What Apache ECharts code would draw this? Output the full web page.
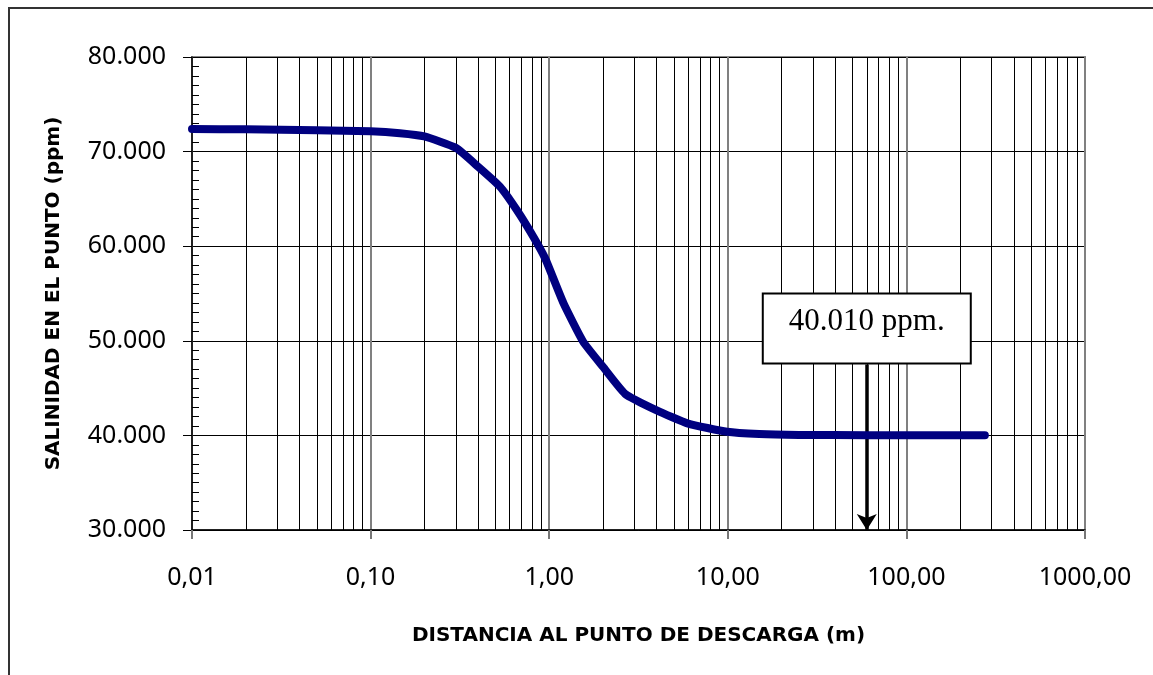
<!DOCTYPE html>
<html>
<head>
<meta charset="utf-8">
<script src="https://cdn.jsdelivr.net/npm/echarts@6/dist/echarts.min.js"></script>
<style>
html,body{margin:0;padding:0;background:#fff;}
#frame{position:absolute;left:8px;top:7px;width:1200px;height:700px;border-left:2px solid #333;border-top:2px solid #333;}
#chart{position:absolute;left:0;top:0;width:1153px;height:675px;}
</style>
</head>
<body>
<div id="frame"></div>
<div id="chart"></div>
<script>
// Distances (m) and salinity (ppm)
const distances = [0.01, 0.02, 0.05, 0.1, 0.146, 0.2, 0.3, 0.4, 0.53, 0.66, 0.815, 0.95, 1.2, 1.55, 2.0, 2.66, 4.0, 6.0, 9.9, 15, 25, 60, 150, 275];
const salinity  = [72400, 72350, 72250, 72150, 71950, 71600, 70400, 68400, 66300, 63800, 61000, 58700, 54000, 49900, 47250, 44400, 42650, 41250, 40380, 40140, 40050, 40020, 40010, 40010];
const yTicks = [30000, 40000, 50000, 60000, 70000, 80000];
const xTickLabels = ['0,01', '0,10', '1,00', '10,00', '100,00', '1000,00'];
const annotationX = 60;          // arrow position (m)
const annotationValue = '40.010 ppm.';
const arrowTopY = 47500;         // bottom of annotation box (ppm)
const boxCenterY = 51300;        // centre of annotation box (ppm)

// minor log grid lines 2..9 per decade
const minorGrid = [];
for (let d = -2; d < 3; d++) {
  for (let m = 2; m <= 9; m++) minorGrid.push(+(m * Math.pow(10, d)).toPrecision(3));
}

const chart = echarts.init(document.getElementById('chart'), null, {renderer: 'canvas'});
const fmtY = v => (v / 1000).toFixed(0) + '.000';
const xLabelMap = {};
[0.01, 0.1, 1, 10, 100, 1000].forEach((v, i) => xLabelMap[v] = xTickLabels[i]);

chart.setOption({
  animation: false,
  backgroundColor: 'transparent',
  grid: {left: 192, top: 57, right: 68, bottom: 145, show: true, borderColor: '#888', borderWidth: 2, backgroundColor: 'transparent'},
  xAxis: {
    type: 'log', logBase: 10, min: 0.01, max: 1000,
    name: 'DISTANCIA AL PUNTO DE DESCARGA (m)', nameLocation: 'middle', nameGap: 96,
    nameTextStyle: {fontFamily: 'DejaVu Sans', fontWeight: 'bold', fontSize: 20, color: '#000'},
    axisLine: {onZero: false, lineStyle: {color: '#000', width: 1.5}},
    axisTick: {show: true, length: 9, lineStyle: {color: '#777', width: 2}},
    axisLabel: {margin: 35, fontFamily: 'Noto Sans', fontSize: 25, color: '#000',
      formatter: v => { const k = Object.keys(xLabelMap).find(key => Math.abs(+key - v) / v < 1e-6); return k ? xLabelMap[k] : ''; }},
    splitLine: {show: true, lineStyle: {color: '#808080', width: 2}},
    minorTick: {show: false}, minorSplitLine: {show: false}
  },
  yAxis: {
    type: 'value', min: yTicks[0], max: yTicks[yTicks.length - 1], interval: 10000,
    name: 'SALINIDAD EN EL PUNTO (ppm)', nameLocation: 'middle', nameGap: 128, nameRotate: 90,
    nameTextStyle: {fontFamily: 'DejaVu Sans', fontWeight: 'bold', fontSize: 20, color: '#000'},
    axisLine: {show: true, lineStyle: {color: '#000', width: 1.5}},
    axisTick: {show: true, length: 9, lineStyle: {color: '#000', width: 1}},
    minorTick: {show: true, splitNumber: 10, length: -7, lineStyle: {color: '#000', width: 1}},
    axisLabel: {margin: 26, fontFamily: 'Noto Sans', fontSize: 25, color: '#000', formatter: fmtY},
    splitLine: {show: true, lineStyle: {color: '#000', width: 1}}
  },
  series: [
    {
      type: 'line', data: [], silent: true, z: 1,
      markLine: {
        silent: true, symbol: ['none', 'none'], animation: false,
        label: {show: false},
        lineStyle: {color: '#000', width: 1, type: 'solid'},
        data: minorGrid.map(v => ({xAxis: v}))
      }
    },
    {
      type: 'line', z: 5,
      data: distances.map((d, i) => [d, salinity[i]]),
      showSymbol: false, smooth: 0.15,
      lineStyle: {color: '#000080', width: 8, cap: 'round', join: 'round'},
      markLine: {
        silent: true, symbol: ['none', 'arrow'], symbolSize: [15, 16], animation: false,
        label: {show: false},
        lineStyle: {color: '#000', width: 3.5, type: 'solid'},
        data: [[{coord: [annotationX, arrowTopY]}, {coord: [annotationX, yTicks[0]]}]]
      }
    }
  ]
});

const c = chart.convertToPixel({gridIndex: 0}, [annotationX, boxCenterY]);
const bw = 208, bh = 70;
chart.setOption({
  graphic: [
    {type: 'rect', z: 100, shape: {x: c[0] - bw / 2, y: c[1] - bh / 2, width: bw, height: bh},
     style: {fill: '#fff', stroke: '#000', lineWidth: 2}},
    {type: 'text', z: 101, x: c[0], y: c[1] - 7,
     style: {text: annotationValue, fontFamily: 'Liberation Serif', fontSize: 31, fill: '#000', align: 'center', verticalAlign: 'middle'}}
  ]
});
</script>
</body>
</html>
